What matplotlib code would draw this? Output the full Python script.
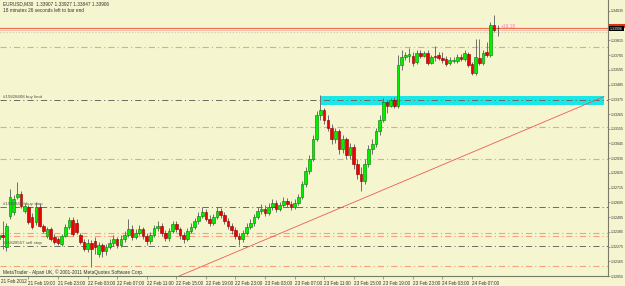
import matplotlib
matplotlib.use('Agg')
import matplotlib.pyplot as plt
from matplotlib.patches import Rectangle
import matplotlib.transforms as mtrans

# EURUSD M30 candles, 21 Feb 15:00 .. 24 Feb 10:30
opens = [
    1.32332, 1.32361, 1.32272, 1.32502, 1.32532, 1.32644, 1.32666, 1.32540, 1.32569, 1.32495,
    1.32458, 1.32569, 1.32428, 1.32354, 1.32406, 1.32347, 1.32332, 1.32295, 1.32354, 1.32421,
    1.32473, 1.32451, 1.32361, 1.32309, 1.32258, 1.32302, 1.32317, 1.32220, 1.32287, 1.32243,
    1.32272, 1.32302, 1.32332, 1.32287, 1.32332, 1.32361, 1.32406, 1.32347, 1.32376, 1.32406,
    1.32354, 1.32317, 1.32361, 1.32413, 1.32428, 1.32376, 1.32339, 1.32391, 1.32443, 1.32406,
    1.32361, 1.32332, 1.32391, 1.32421, 1.32465, 1.32502, 1.32532, 1.32480, 1.32451, 1.32495,
    1.32540, 1.32510, 1.32465, 1.32428, 1.32398, 1.32354, 1.32332, 1.32376, 1.32421, 1.32451,
    1.32495, 1.32540, 1.32554, 1.32525, 1.32569, 1.32599, 1.32554, 1.32584, 1.32614, 1.32592,
    1.32569, 1.32599, 1.32644, 1.32740, 1.32837, 1.32926, 1.33075, 1.33261, 1.33298, 1.33224,
    1.33164, 1.33075, 1.33135, 1.33001, 1.33075, 1.32956, 1.33016, 1.32889, 1.32815, 1.32763,
    1.32889, 1.33001, 1.33038, 1.33135, 1.33224, 1.33358, 1.33328, 1.33373, 1.33328, 1.33633,
    1.33693, 1.33700, 1.33700, 1.33656, 1.33723, 1.33700, 1.33723, 1.33648, 1.33700, 1.33708,
    1.33685, 1.33678, 1.33648, 1.33663, 1.33663, 1.33693, 1.33678, 1.33715, 1.33641, 1.33574,
    1.33685, 1.33648, 1.33730, 1.33708, 1.33931, 1.33907]
highs = [
    1.32406, 1.32465, 1.32451, 1.32703, 1.32659, 1.32755, 1.32688, 1.32599, 1.32584, 1.32525,
    1.32606, 1.32592, 1.32443, 1.32421, 1.32421, 1.32369, 1.32347, 1.32369, 1.32443, 1.32495,
    1.32495, 1.32480, 1.32376, 1.32332, 1.32332, 1.32324, 1.32347, 1.32309, 1.32302, 1.32295,
    1.32332, 1.32361, 1.32347, 1.32361, 1.32391, 1.32480, 1.32436, 1.32406, 1.32436, 1.32421,
    1.32376, 1.32384, 1.32436, 1.32465, 1.32451, 1.32398, 1.32413, 1.32465, 1.32465, 1.32421,
    1.32384, 1.32413, 1.32451, 1.32488, 1.32532, 1.32569, 1.32554, 1.32510, 1.32517, 1.32569,
    1.32562, 1.32532, 1.32488, 1.32451, 1.32421, 1.32376, 1.32398, 1.32451, 1.32480, 1.32517,
    1.32569, 1.32592, 1.32584, 1.32599, 1.32629, 1.32621, 1.32606, 1.32644, 1.32636, 1.32614,
    1.32629, 1.32666, 1.32763, 1.32867, 1.32956, 1.33105, 1.33284, 1.33410, 1.33313, 1.33254,
    1.33194, 1.33164, 1.33150, 1.33105, 1.33090, 1.33045, 1.33038, 1.32926, 1.32867, 1.32926,
    1.33031, 1.33075, 1.33164, 1.33254, 1.33388, 1.33373, 1.33388, 1.33395, 1.33708, 1.33745,
    1.33730, 1.33760, 1.33730, 1.33745, 1.33745, 1.33737, 1.33745, 1.33708, 1.33775, 1.33730,
    1.33730, 1.33700, 1.33693, 1.33693, 1.33715, 1.33715, 1.33745, 1.33730, 1.33656, 1.33827,
    1.33827, 1.33745, 1.33804, 1.33953, 1.34005, 1.33927]
lows = [
    1.32272, 1.32258, 1.32243, 1.32480, 1.32510, 1.32629, 1.32562, 1.32525, 1.32443, 1.32406,
    1.32436, 1.32421, 1.32376, 1.32339, 1.32317, 1.32295, 1.32287, 1.32280, 1.32347, 1.32406,
    1.32354, 1.32369, 1.32295, 1.32243, 1.32235, 1.32123, 1.32220, 1.32198, 1.32198, 1.32213,
    1.32258, 1.32280, 1.32265, 1.32272, 1.32309, 1.32347, 1.32324, 1.32332, 1.32361, 1.32332,
    1.32287, 1.32295, 1.32347, 1.32391, 1.32354, 1.32317, 1.32317, 1.32376, 1.32384, 1.32332,
    1.32302, 1.32317, 1.32376, 1.32406, 1.32443, 1.32488, 1.32465, 1.32428, 1.32436, 1.32480,
    1.32488, 1.32443, 1.32406, 1.32369, 1.32332, 1.32287, 1.32309, 1.32361, 1.32406, 1.32428,
    1.32480, 1.32517, 1.32502, 1.32510, 1.32547, 1.32532, 1.32540, 1.32569, 1.32569, 1.32547,
    1.32554, 1.32584, 1.32629, 1.32718, 1.32815, 1.32911, 1.33060, 1.33224, 1.33187, 1.33135,
    1.33038, 1.33045, 1.32964, 1.32971, 1.32926, 1.32926, 1.32852, 1.32778, 1.32688, 1.32740,
    1.32867, 1.32964, 1.33016, 1.33112, 1.33209, 1.33276, 1.33321, 1.33313, 1.33313, 1.33596,
    1.33670, 1.33656, 1.33626, 1.33641, 1.33685, 1.33693, 1.33633, 1.33641, 1.33663, 1.33670,
    1.33648, 1.33626, 1.33633, 1.33648, 1.33648, 1.33663, 1.33663, 1.33618, 1.33559, 1.33559,
    1.33633, 1.33633, 1.33693, 1.33693, 1.33879, 1.33847]
closes = [
    1.32361, 1.32347, 1.32428, 1.32644, 1.32629, 1.32666, 1.32577, 1.32577, 1.32458, 1.32421,
    1.32569, 1.32428, 1.32391, 1.32406, 1.32332, 1.32309, 1.32302, 1.32354, 1.32421, 1.32473,
    1.32369, 1.32384, 1.32309, 1.32258, 1.32302, 1.32258, 1.32272, 1.32287, 1.32243, 1.32272,
    1.32302, 1.32332, 1.32287, 1.32332, 1.32361, 1.32406, 1.32347, 1.32376, 1.32406, 1.32354,
    1.32317, 1.32361, 1.32413, 1.32428, 1.32376, 1.32339, 1.32391, 1.32443, 1.32406, 1.32361,
    1.32332, 1.32391, 1.32421, 1.32465, 1.32502, 1.32532, 1.32480, 1.32451, 1.32495, 1.32540,
    1.32510, 1.32465, 1.32428, 1.32398, 1.32354, 1.32332, 1.32376, 1.32421, 1.32451, 1.32495,
    1.32540, 1.32554, 1.32525, 1.32569, 1.32599, 1.32554, 1.32584, 1.32614, 1.32592, 1.32569,
    1.32599, 1.32644, 1.32740, 1.32837, 1.32926, 1.33075, 1.33261, 1.33298, 1.33224, 1.33164,
    1.33075, 1.33135, 1.33001, 1.33075, 1.32956, 1.33016, 1.32889, 1.32815, 1.32763, 1.32889,
    1.33001, 1.33038, 1.33135, 1.33224, 1.33358, 1.33328, 1.33373, 1.33328, 1.33633, 1.33693,
    1.33708, 1.33715, 1.33648, 1.33723, 1.33700, 1.33723, 1.33648, 1.33693, 1.33693, 1.33685,
    1.33670, 1.33641, 1.33670, 1.33670, 1.33693, 1.33678, 1.33723, 1.33633, 1.33574, 1.33693,
    1.33648, 1.33723, 1.33708, 1.33931, 1.33894, 1.33906]

# price scale labels on the right
price_ticks = [1.34035, 1.33925, 1.33815, 1.33705, 1.33595, 1.33485, 1.33375, 1.33265,
               1.33155, 1.33045, 1.32935, 1.32825, 1.32715, 1.32605, 1.32495, 1.32385,
               1.32275, 1.32165, 1.32055]
# time labels (bar index, text)
time_idx = [8, 16, 24, 32, 40, 48, 56, 64, 72, 80, 88, 96, 104, 112, 120, 128]
time_labels = ['21 Feb 19:00', '21 Feb 23:00', '22 Feb 03:00', '22 Feb 07:00',
               '22 Feb 11:00', '22 Feb 15:00', '22 Feb 19:00', '22 Feb 23:00',
               '23 Feb 03:00', '23 Feb 07:00', '23 Feb 11:00', '23 Feb 15:00',
               '23 Feb 19:00', '23 Feb 23:00', '24 Feb 03:00', '24 Feb 07:00']

# order lines
tp_sl_levels = [1.33769, 1.33170, 1.32926, 1.32374, 1.32356, 1.32133]
order_levels = [1.33373, 1.32574, 1.32282]
order_names = ['#15828408 buy limit', '#15828409 buy stop', '#15828557 sell stop']
trend_x = [46.3, 163.7]
trend_y = [1.32026, 1.33395]
zone_x = [87.15, 163.7]
zone_y = [1.33330, 1.33399]
last_price = 1.33906

bg = '#F5F5D0'
plt.rcParams['font.family'] = ['Liberation Sans', 'DejaVu Sans']
plt.rcParams['lines.scale_dashes'] = False

fig = plt.figure(figsize=(6.25, 2.86), dpi=100)
fig.patch.set_facecolor(bg)
ax = fig.add_axes([0, 10 / 286, 608 / 625, 276 / 286])
ax.set_facecolor(bg)
ax.set_xlim(0.3, 164.8)
ax.set_ylim(1.320634, 1.341168)

dashdot = (0, (4.5, 2.2, 0.8, 2.2))

# cyan zone
ax.add_patch(Rectangle((zone_x[0], zone_y[0]), zone_x[1] - zone_x[0], zone_y[1] - zone_y[0],
                       facecolor='#18E8E8', edgecolor='none', zorder=1))
ax.hlines(zone_y[0] + 0.00003, zone_x[0], zone_x[1], colors='white', linestyles=(0, (1, 1.5)),
          lw=0.6, zorder=2)

for lv in tp_sl_levels:
    ax.axhline(lv, color='#F7A07C', lw=0.8, ls=dashdot, zorder=1)
for lv, name in zip(order_levels, order_names):
    ax.axhline(lv, color='#6A6A60', lw=0.7, ls=dashdot, zorder=2)
    ax.text(1.0, lv + 0.00004, name, fontsize=3.2, color='#555548', va='bottom', ha='left', zorder=5)

# open position / price lines near top
ax.axhline(1.33911, color='#F07050', lw=0.9, zorder=2)
ax.axhline(1.33894, color='#F8B8A8', lw=0.6, zorder=2)
ax.axhline(1.33878, color='#C8C8B0', lw=0.6, ls=(0, (1, 1.2)), zorder=2)
ax.text(135.8, 1.33918, '+19.18', fontsize=3.4, color='#FF70C8', va='center', ha='left')

# trend line
ax.plot(trend_x, trend_y, color='#F05A50', lw=0.6, zorder=2)

# candles
for i in range(len(closes)):
    o, h, l, c = opens[i], highs[i], lows[i], closes[i]
    ax.vlines(i, l, h, color='#6E6E6E', lw=0.7, zorder=3)
    if c >= o:
        fc, ec = '#00F000', '#007A00'
    else:
        fc, ec = '#F00000', '#800000'
    ax.bar(i, max(abs(c - o), 0.00002), bottom=min(o, c), width=0.72,
           facecolor=fc, edgecolor=ec, lw=0.4, zorder=4)

# axes frame
for s in ['top', 'left']:
    ax.spines[s].set_visible(False)
for s in ['right', 'bottom']:
    ax.spines[s].set_color('#7A7A68')
    ax.spines[s].set_linewidth(0.8)

ax.yaxis.tick_right()
ax.set_yticks(price_ticks)
ax.set_yticklabels(['%.5f' % p for p in price_ticks], fontsize=2.6, color='#333333')
ax.set_xticks(time_idx)
ax.set_xticklabels(time_labels, fontsize=3.3, color='#333333', ha='left')
ax.tick_params(axis='both', length=2, width=0.5, color='#7A7A68', pad=1)
ax.tick_params(axis='y', length=1.5, pad=0.5)
ax.tick_params(axis='x', pad=1.5)

# first date label
ax.text(0.002, -0.012, '21 Feb 2012', transform=ax.transAxes, fontsize=3.3,
        color='#333333', ha='left', va='top')

# current price marks on the price scale
trans = mtrans.blended_transform_factory(ax.transAxes, ax.transData)
ax.add_patch(Rectangle((1.002, 1.33911), 0.04, 0.00024, transform=trans,
                       facecolor='#E83010', edgecolor='none', clip_on=False, zorder=5))
ax.text(1.003, last_price - 0.00004, '%.5f' % last_price, transform=trans, fontsize=2.6,
        color='white', va='center', ha='left',
        bbox=dict(boxstyle='square,pad=0.2', fc='black', ec='none'), clip_on=False, zorder=6)

# header and footer text
ax.text(0.005, 0.995, 'EURUSD,M30  1.33907 1.33927 1.33847 1.33906', transform=ax.transAxes,
        fontsize=3.4, color='#333333', va='top', ha='left')
ax.text(0.005, 0.972, '18 minutes 26 seconds left to bar end', transform=ax.transAxes,
        fontsize=3.4, color='#333333', va='top', ha='left')
ax.text(0.005, 0.005, 'MetaTrader - Alpari UK, \u00a9 2001-2011 MetaQuotes Software Corp.',
        transform=ax.transAxes, fontsize=3.4, color='#333333', va='bottom', ha='left')

fig.savefig('out.png', dpi=100, facecolor=bg)
